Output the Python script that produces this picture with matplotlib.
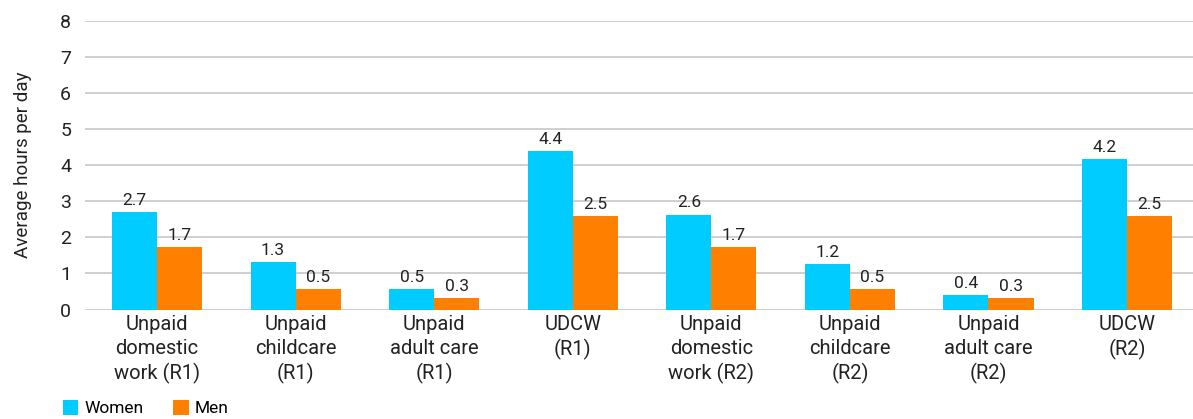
import matplotlib
matplotlib.use("Agg")
import matplotlib.pyplot as plt
import numpy as np

categories = [
    "Unpaid\ndomestic\nwork (R1)", "Unpaid\nchildcare\n(R1)", "Unpaid\nadult care\n(R1)", "UDCW\n(R1)",
    "Unpaid\ndomestic\nwork (R2)", "Unpaid\nchildcare\n(R2)", "Unpaid\nadult care\n(R2)", "UDCW\n(R2)",
]
women = [2.71, 1.32, 0.57, 4.40, 2.63, 1.27, 0.41, 4.18]
men = [1.72, 0.57, 0.32, 2.58, 1.72, 0.57, 0.32, 2.58]
women_labels = ["2.7", "1.3", "0.5", "4.4", "2.6", "1.2", "0.4", "4.2"]
men_labels = ["1.7", "0.5", "0.3", "2.5", "1.7", "0.5", "0.3", "2.5"]

plt.rcParams['font.family'] = ['Roboto', 'DejaVu Sans']

fig = plt.figure(figsize=(11.93, 4.19), dpi=100)
ax = fig.add_axes([85 / 1193, 109.5 / 419, 1108 / 1193, 288.5 / 419])

x = np.arange(len(categories))
w = 0.325
bw = ax.bar(x - w / 2, women, w, color="#00CCFF", label="Women", zorder=3)
bm = ax.bar(x + w / 2, men, w, color="#FF8000", label="Men", zorder=3)

for rect, lab in zip(bw, women_labels):
    ax.annotate(lab, (rect.get_x() + rect.get_width() / 2, rect.get_height()),
                xytext=(0, 3), textcoords="offset points", ha="center", va="bottom",
                fontsize=12.5, color="#222222")
for rect, lab in zip(bm, men_labels):
    ax.annotate(lab, (rect.get_x() + rect.get_width() / 2, rect.get_height()),
                xytext=(0, 3), textcoords="offset points", ha="center", va="bottom",
                fontsize=12.5, color="#222222")

ax.set_xlim(-0.52, len(categories) - 0.524)
ax.set_ylim(0, 8)
ax.set_yticks(range(0, 9))
ax.set_xticks(x)
ax.set_xticklabels(categories, fontsize=14.5, color="#222222", linespacing=1.3)
ax.tick_params(axis="both", length=0)
ax.tick_params(axis="y", labelsize=14, labelcolor="#222222", pad=10)
ax.tick_params(axis="x", pad=4)
ax.grid(axis="y", color="#cccccc", linewidth=1.3, zorder=0)
for s in ax.spines.values():
    s.set_visible(False)
ax.set_ylabel("Average hours per day", fontsize=13.5, color="#222222", labelpad=20)

fig.legend(handles=[bw, bm], labels=["Women", "Men"], loc="lower left",
           bbox_to_anchor=(47 / 1193, -13 / 419), ncol=2, frameon=False,
           fontsize=12.5, handlelength=0.9, handleheight=0.9, handletextpad=0.35,
           columnspacing=1.7)

fig.savefig("out.png", dpi=100)
